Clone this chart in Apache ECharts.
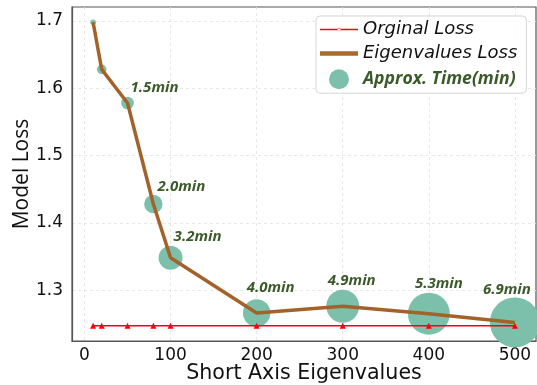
<!DOCTYPE html>
<html>
<head>
<meta charset="utf-8">
<script src="https://cdn.jsdelivr.net/npm/echarts@6/dist/echarts.min.js"></script>
<style>
html,body{margin:0;padding:0;background:#fff;}
#chart{width:537px;height:385px;}
</style>
</head>
<body>
<div id="chart"></div>
<script>
// ---- data ----
const eigenvalues = [10, 20, 50, 80, 100, 200, 300, 400, 500];
const eigenLoss = [1.698, 1.628, 1.578, 1.428, 1.348, 1.266, 1.276, 1.265, 1.252];
const originalLoss = [1.247, 1.247, 1.247, 1.247, 1.247, 1.247, 1.247, 1.247, 1.247];
const approxTime = [null, null, 1.5, 2.0, 3.2, 4.0, 4.9, 5.3, 6.9];
const bubbleArea = [8, 23, 40, 85, 144, 188, 272, 441, 625];
const xTicks = [0, 100, 200, 300, 400, 500];
const yTicks = [1.3, 1.4, 1.5, 1.6, 1.7];
const seriesNames = ['Orginal Loss', 'Eigenvalues Loss', 'Approx. Time(min)'];

// ---- styles ----
const labelOffsets = [[0,0],[0,0],[27,-15],[28,-17],[27,-21],[14,-25],[9,-26],[10,-30],[-8,-33]];
const bubbleColor = '#7cc0ab';
const brown = '#a3622a';
const green = '#3b5a29';

const chart = echarts.init(document.getElementById('chart'), null, {renderer: 'canvas'});

const bubbleData = eigenvalues.map((x, i) => ({
  value: [x, eigenLoss[i]],
  symbolSize: 2 * Math.sqrt(bubbleArea[i]),
  label: {
    show: approxTime[i] != null,
    position: 'inside',
    offset: labelOffsets[i],
    formatter: () => approxTime[i].toFixed(1) + 'min'
  }
}));

const option = {
  animation: false,
  backgroundColor: '#fff',
  grid: {left: 72, right: 1, top: 7, bottom: 44, show: true, borderColor: '#555', borderWidth: 1.2, outerBoundsMode: 'none'},
  legend: {
    orient: 'vertical',
    left: 316, top: 16,
    padding: [4, 9, 4, 4],
    itemWidth: 38, itemHeight: 20, itemGap: 6.6, itemTextGap: 12,
    backgroundColor: 'rgba(255,255,255,0.85)',
    borderColor: '#d6d6d6', borderWidth: 1, borderRadius: 4,
    symbolKeepAspect: true,
    data: [
      {name: seriesNames[0], icon: 'path://M0,1.2H38V2.8H0Z M16.8,3 L21.2,3 L19,0Z', itemStyle: {color: '#ff0000'},
       textStyle: {fontFamily: 'DejaVu Sans', fontStyle: 'italic', fontSize: 18, color: '#111'}},
      {name: seriesNames[1], icon: 'path://M0,0H38V4.5H0Z', itemStyle: {color: '#a86a30'},
       textStyle: {fontFamily: 'DejaVu Sans', fontStyle: 'italic', fontSize: 18, color: '#111'}},
      {name: seriesNames[2], icon: 'circle', itemStyle: {color: bubbleColor},
       textStyle: {fontFamily: 'Open Sans', fontStyle: 'italic', fontWeight: 'bold', fontSize: 17.6, color: green}}
    ]
  },
  xAxis: {
    type: 'value', min: -14.5, max: 524.5,
    name: 'Short Axis Eigenvalues', nameLocation: 'middle', nameGap: 33, nameMoveOverlap: false,
    nameTextStyle: {fontFamily: 'DejaVu Sans', fontSize: 20.6, color: '#111', verticalAlign: 'middle'},
    axisLine: {show: true, onZero: false, lineStyle: {color: '#555', width: 1.2}},
    axisTick: {show: false, customValues: xTicks},
    axisLabel: {customValues: xTicks, fontFamily: 'DejaVu Sans', fontSize: 17, color: '#111', margin: 6,
      formatter: v => String(Math.round(v))},
    splitLine: {show: true, lineStyle: {color: '#e2e2e2', type: [3, 3], width: 0.8}}
  },
  yAxis: {
    type: 'value', min: 1.2244, max: 1.7206,
    name: 'Model Loss', nameLocation: 'middle', nameGap: 49.5, nameMoveOverlap: false,
    nameTextStyle: {fontFamily: 'Open Sans', fontSize: 21, color: '#111', verticalAlign: 'middle'},
    axisLine: {show: true, onZero: false, lineStyle: {color: '#555', width: 1.2}},
    axisTick: {show: false, customValues: yTicks},
    axisLabel: {customValues: yTicks, fontFamily: 'DejaVu Sans', fontSize: 17, color: '#111', margin: 9,
      formatter: v => v.toFixed(1)},
    splitLine: {show: true, lineStyle: {color: '#e2e2e2', type: [3, 3], width: 0.8}}
  },
  series: [
    {
      name: seriesNames[2], type: 'scatter', z: 1, clip: true,
      itemStyle: {color: bubbleColor, opacity: 1},
      label: {fontFamily: 'Open Sans', fontStyle: 'italic', fontWeight: 'bold', fontSize: 15, color: green},
      data: bubbleData
    },
    {
      name: seriesNames[1], type: 'line', z: 3,
      symbol: 'none',
      lineStyle: {color: brown, width: 3.5},
      itemStyle: {color: brown},
      data: eigenvalues.map((x, i) => [x, eigenLoss[i]])
    },
    {
      name: seriesNames[0], type: 'line', z: 4,
      symbol: 'triangle', symbolSize: 6,
      lineStyle: {color: '#ff0000', width: 1.5},
      itemStyle: {color: '#ff0000'},
      data: eigenvalues.map((x, i) => [x, originalLoss[i]])
    }
  ]
};
chart.setOption(option);
</script>
</body>
</html>
